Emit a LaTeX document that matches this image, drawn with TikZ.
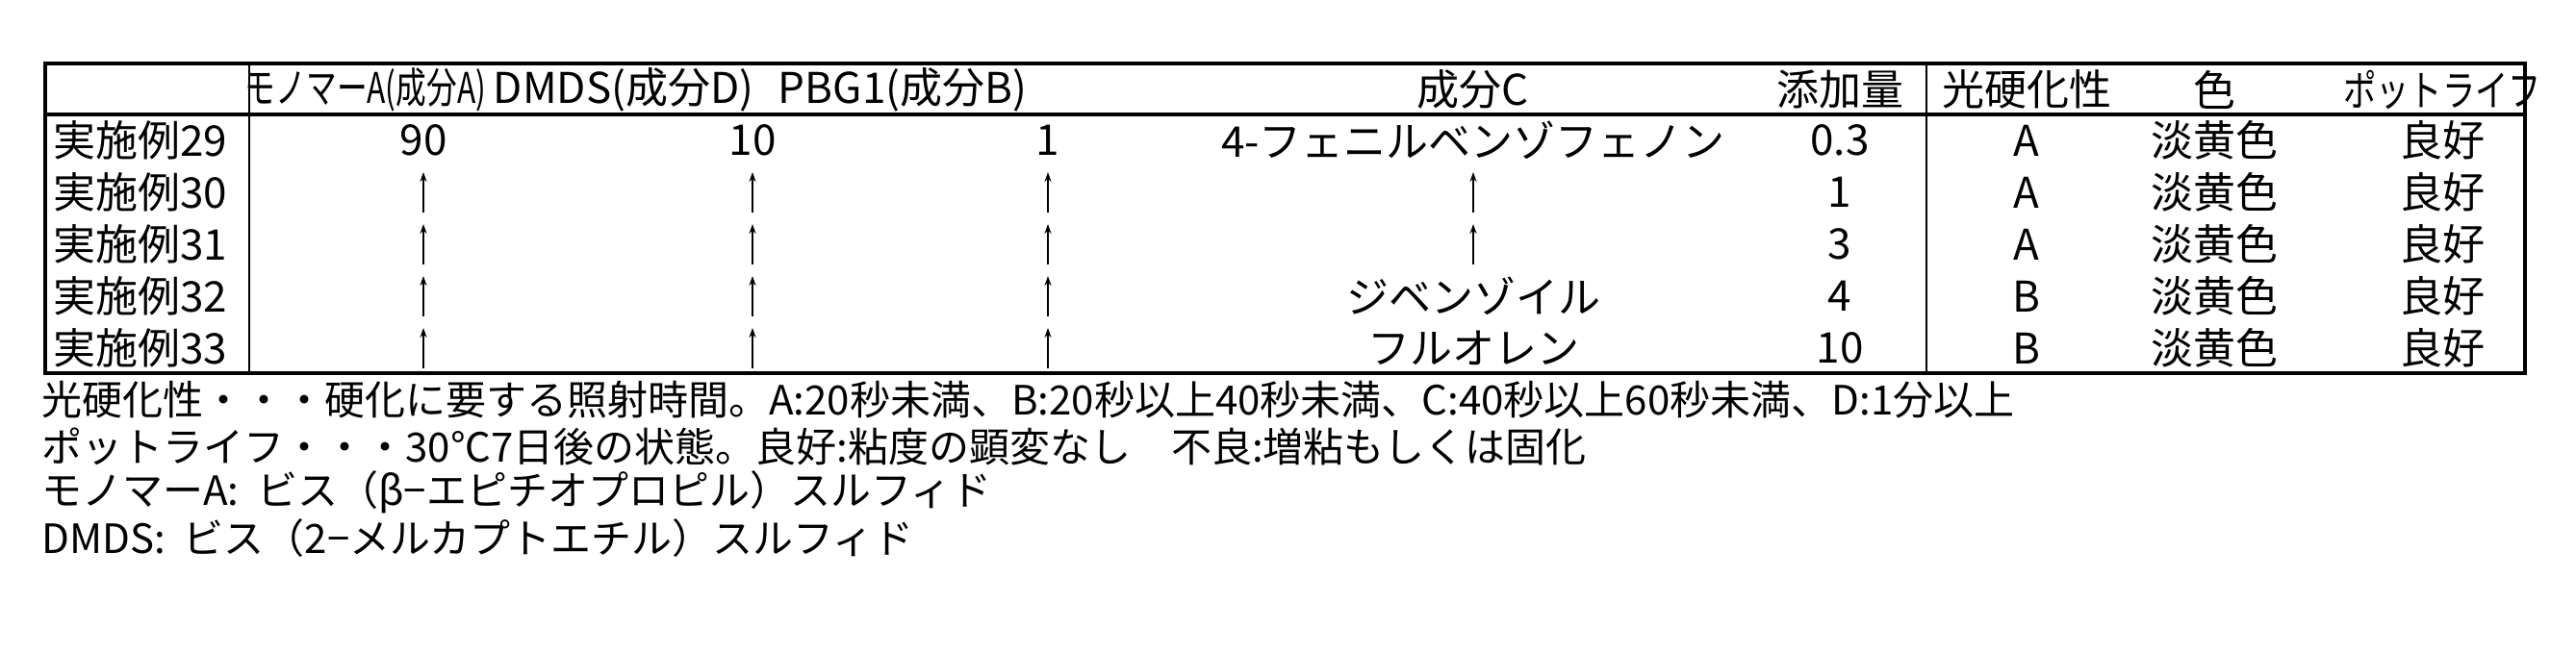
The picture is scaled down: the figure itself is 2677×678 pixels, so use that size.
\documentclass[tikz,border=0pt]{standalone}
\usepackage{fontspec}
\usetikzlibrary{arrows.meta}
\setmainfont{Noto Sans CJK JP}
\newcommand{\myup}{\tikz[baseline=0pt]\draw[line width=1bp,-{Stealth[length=5bp,width=3.5bp]}] (0,-1bp)--(0,20bp);}
\begin{document}
\begin{tikzpicture}[x=0.5bp,y=-0.5bp,
  t/.style={inner sep=0pt,font=\fontsize{22bp}{22bp}\selectfont},
  tl/.style={t,anchor=west},
  nt/.style={inner sep=0pt,anchor=west,font=\fontsize{21bp}{21bp}\selectfont},
  thick line/.style={line width=2.2bp},
  thin line/.style={line width=1bp}]
\useasboundingbox (0,0) rectangle (2677,678);
% table grid
\draw[thick line] (47,66) rectangle (2624,388);
\draw[thick line] (47,119) -- (2624,119);
\draw[thin line] (259,66) -- (259,388);
\draw[thin line] (2002,66) -- (2002,388);
% header
\node[t] (h1) at (380,93) {\scalebox{0.72}[1]{モノマーA(成分A)}};
\node[t] (h2) at (648,93) {DMDS(成分D)};
\node[t] (h3) at (938,93) {PBG1(成分B)};
\node[t] (h4) at (1531,93) {成分C};
\node[t] (h5) at (1912,93) {添加量};
\node[t] (h6) at (2106,93) {光硬化性};
\node[t] (h7) at (2301,93) {色};
\node[t] (h8) at (2538,93) {\scalebox{0.78}[1]{ポットライフ}};
% rows
\foreach \n/\y/\c/\d/\e in {29/146/4-フェニルベンゾフェノン/0.3/A, 30/200/\myup/1/A, 31/254/\myup/3/A, 32/308/ジベンゾイル/4/B, 33/362/フルオレン/10/B}{
  \node[tl] (r\n) at (55,\y) {実施例\n};
  \node[t] (c\n) at (1531,\y) {\c};
  \node[t] (d\n) at (1912,\y) {\d};
  \node[t] (e\n) at (2106,\y) {\e};
  \node[t] (f\n) at (2301,\y) {淡黄色};
  \node[t] (g\n) at (2538,\y) {良好};
}
\node[t] (a29) at (440,146) {90};
\node[t] (b29) at (782,146) {10};
\node[t] (p29) at (1089,146) {1};
\foreach \n/\y in {30/200,31/254,32/308,33/362}{
  \node[t] (a\n) at (440,\y) {\myup};
  \node[t] (b\n) at (782,\y) {\myup};
  \node[t] (p\n) at (1089,\y) {\myup};
}
% notes
\node[nt] (n1) at (43,416) {光硬化性・・・硬化に要する照射時間。A:20秒未満、B:20秒以上40秒未満、C:40秒以上60秒未満、D:1分以上};
\node[nt] (n2) at (43,464) {ポットライフ・・・30℃7日後の状態。良好:粘度の顕変なし\quad 不良:増粘もしくは固化};
\node[nt] (n3) at (43,512) {モノマーA:\ \ ビス（β−エピチオプロピル）スルフィド};
\node[nt] (n4) at (43,560) {DMDS:\ \ ビス（2−メルカプトエチル）スルフィド};
\end{tikzpicture}
\end{document}
